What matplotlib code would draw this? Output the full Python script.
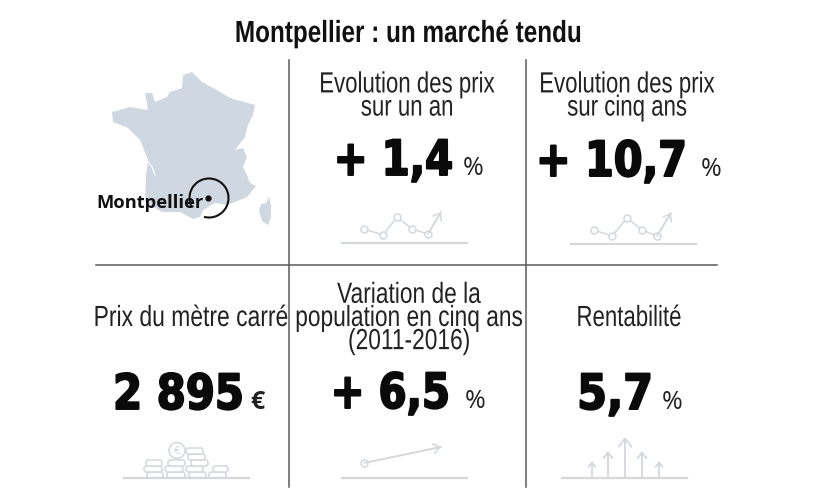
import matplotlib
matplotlib.use("Agg")
import matplotlib.pyplot as plt
from matplotlib.patches import Polygon, Arc, Ellipse, FancyBboxPatch
from matplotlib.patheffects import AbstractPathEffect
from matplotlib.transforms import Affine2D

# =========================
# 1. Données
# =========================
title = "Montpellier : un marché tendu"
city = "Montpellier"

labels = ["Evolution des prix\nsur un an", "Evolution des prix\nsur cinq ans",
          "Prix du mètre carré", "Variation de la\npopulation en cinq ans\n(2011-2016)",
          "Rentabilité"]
values = ["+ 1,4", "+ 10,7", "2 895", "+ 6,5", "5,7"]
units = ["%", "%", "€", "%", "%"]

label_x = [407, 627, 191, 409, 629]
label_y = [96, 96, 318, 318, 318]
label_sx = [0.762, 0.762, 0.785, 0.78, 0.762]
value_right = [453, 687, 244, 450, 653]
value_base = [175, 176, 409, 408, 409]
value_sx = [0.83, 0.85, 0.86, 0.83, 0.88]
unit_x = [473, 711, 257, 475, 672]

# contour de la France (pixels de l'image)
france_x = [183, 192, 196, 202, 217, 230, 255, 253, 248, 245, 235, 243, 247, 243, 247, 250, 256, 247, 228, 215, 203,
            200, 193, 180, 162, 145, 146, 148, 140, 128, 113, 112, 130, 148, 145, 152, 155, 167, 170, 182]
france_y = [75, 72, 76, 82, 90, 98, 105, 115, 125, 137, 150, 148, 157, 167, 175, 183, 186, 197, 205, 203, 210,
            217, 219, 212, 212, 202, 175, 160, 140, 128, 122, 112, 107, 110, 93, 93, 102, 97, 92, 88]
corse_x = [269, 271, 271, 268, 262, 259, 261, 266]
corse_y = [197, 205, 217, 225, 221, 211, 204, 203]
estuaire_x = [148, 152, 155]
estuaire_y = [162, 167, 175]

# petites courbes décoratives
spark1_x = [364, 383, 397, 412, 428]
spark1_y = [229, 235, 217, 229, 234]
spark1_tip = [441, 212]
spark2_x = [594, 612, 627, 642, 657]
spark2_y = [230, 236, 218, 230, 236]
spark2_tip = [671, 213]
pop_x = [364]
pop_y = [463]
pop_tip = [441, 447]

arrow_x = [592, 608, 625, 642, 659]
arrow_top = [461, 451, 437, 451, 461]
arrow_head = [7, 9, 13, 9, 7]

coin_x = [147, 167, 189, 209, 144, 165, 186, 213, 146, 168, 191, 188, 186]
coin_y = [472, 472, 472, 472, 466, 466, 466, 466, 460, 460, 460, 454, 448]
coin_w = [16, 18, 17, 17, 18, 18, 17, 15, 16, 17, 17, 17, 17]


# =========================
# 2. Texte condensé
# =========================
class Squeeze(AbstractPathEffect):
    def __init__(self, cx, sx, stroke=0):
        super().__init__()
        self.cx = cx
        self.sx = sx
        self.stroke = stroke

    def draw_path(self, renderer, gc, tpath, affine, rgbFace=None):
        t = affine + Affine2D().translate(-self.cx, 0).scale(self.sx, 1).translate(self.cx, 0)
        if self.stroke:
            # épaissit les chiffres
            gc0 = renderer.new_gc()
            gc0.copy_properties(gc)
            gc0.set_linewidth(self.stroke)
            gc0.set_foreground(rgbFace)
            renderer.draw_path(gc0, tpath, t, rgbFace)
            gc0.restore()
        else:
            renderer.draw_path(gc, tpath, t, rgbFace)


fig = plt.figure(figsize=(8.17, 4.98), dpi=100)
ax = fig.add_axes([0, 0, 1, 1])
ax.set_xlim(0, 817)
ax.set_ylim(498, 0)
ax.axis("off")

narrow = "Liberation Sans"
map_col = "#cfd8e0"
icon_col = "#d3d8dd"
line_col = "#5a5a5a"

ax.text(408, 34, title, ha="center", va="center", fontsize=22, fontweight="bold", family=narrow, color="#111111",
        path_effects=[Squeeze(408, 0.795)])

# grille
ax.plot([289, 289], [60, 487], color=line_col, lw=1.1)
ax.plot([526, 526], [60, 487], color=line_col, lw=1.1)
ax.plot([96, 717], [265, 265], color=line_col, lw=1.1)

# carte
ax.add_patch(Polygon(list(zip(france_x, france_y)), closed=True, fc=map_col, ec="none"))
ax.add_patch(Polygon(list(zip(corse_x, corse_y)), closed=True, fc=map_col, ec="none"))
ax.plot(estuaire_x, estuaire_y, color="white", lw=0.8)
ax.add_patch(Arc((209, 198), 39, 39, theta1=-205, theta2=105, color="#111111", lw=1.5))
ax.plot([208], [198], "o", color="#111111", ms=3.5)
ax.text(96, 203, city, ha="left", va="center", fontsize=13.2, fontweight="bold", family="Open Sans", color="#111111")

# textes
for i in range(len(labels)):
    ax.text(label_x[i], label_y[i], labels[i], ha="center", va="center", fontsize=21, family=narrow,
            color="#222222", linespacing=0.78, path_effects=[Squeeze(label_x[i], label_sx[i])])
    ax.text(value_right[i], value_base[i], values[i], ha="right", va="baseline", fontsize=35, fontweight="bold",
            family="DejaVu Sans", color="#0a0a0a", path_effects=[Squeeze(value_right[i], value_sx[i], stroke=1.4)])
    ax.text(unit_x[i], value_base[i], units[i], ha="center", va="baseline", fontsize=18, family="Open Sans",
            fontweight="bold" if units[i] == "€" else "normal", color="#222222")

# lignes de base des icônes
for x0, x1, y in [(342, 467, 243), (571, 696, 244), (124, 249, 478), (342, 467, 478), (562, 687, 478)]:
    ax.plot([x0, x1], [y, y], color=icon_col, lw=1.6)

head = "->,head_length=0.45,head_width=0.35"


def spark(xs, ys, tip):
    ax.plot(xs + [tip[0]], ys + [tip[1]], color=icon_col, lw=1.1, zorder=2)
    ax.plot(xs, ys, "o", mfc="white", mec=icon_col, mew=1.1, ms=5, ls="none", zorder=3)
    ax.annotate("", xy=tip, xytext=(xs[-1], ys[-1]),
                arrowprops=dict(arrowstyle=head, color=icon_col, lw=1.1, shrinkA=0, shrinkB=0, mutation_scale=10))


spark(spark1_x, spark1_y, spark1_tip)
spark(spark2_x, spark2_y, spark2_tip)
spark(pop_x, pop_y, pop_tip)

# flèches rentabilité
for x, top, ms in zip(arrow_x, arrow_top, arrow_head):
    ax.annotate("", xy=(x, top), xytext=(x, 478),
                arrowprops=dict(arrowstyle=head, color=icon_col, lw=1.3, shrinkA=0, shrinkB=0, mutation_scale=ms))

# pièces
for x, y, w in zip(coin_x, coin_y, coin_w):
    ax.add_patch(FancyBboxPatch((x, y), w, 6, boxstyle="round,pad=0,rounding_size=2.5",
                                fc="white", ec=icon_col, lw=1.1))
ax.add_patch(Ellipse((177, 450.5), 16, 16, fc="white", ec=icon_col, lw=1.1))
ax.text(177, 450.5, "€", ha="center", va="center", fontsize=8, color=icon_col)

fig.savefig("out.png", dpi=100)
